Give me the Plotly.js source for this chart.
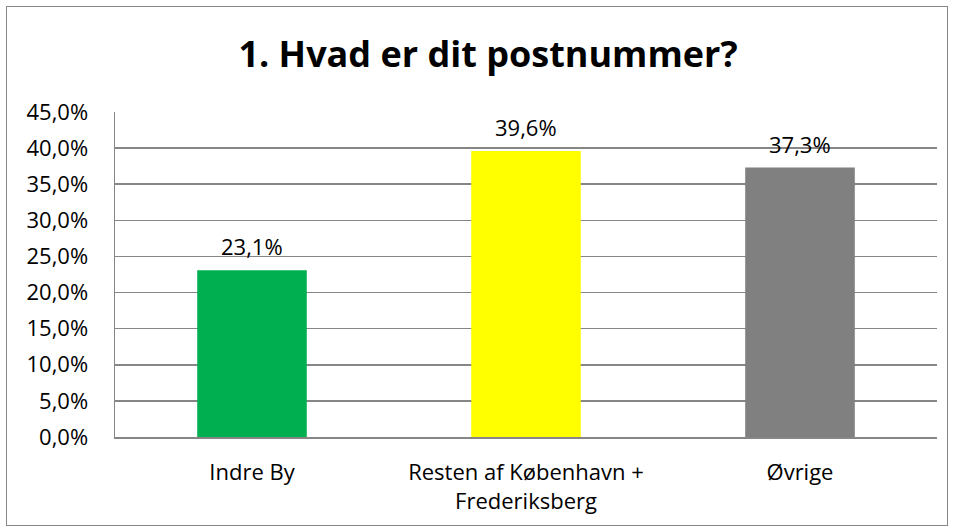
<!DOCTYPE html>
<html><head><meta charset="utf-8">
<script src="https://cdn.plot.ly/plotly-3.0.1.min.js"></script>
<style>body{margin:0;padding:0;background:#fff}#wrap{position:relative;width:955px;height:532px}#chart{width:955px;height:532px}#frame{position:absolute;left:6px;top:6px;width:940px;height:518px;border:1.5px solid #868686;pointer-events:none}</style>
</head><body><div id="wrap"><div id="chart"></div><div id="frame"></div></div>
<script>
const categories = ["Indre By", "Resten af København +<br>Frederiksberg", "Øvrige"];
const values = [0.231, 0.396, 0.373];
const valueLabels = ["23,1%", "39,6%", "37,3%"];
const colors = ["#00B050", "#FFFF00", "#808080"];
const titleText = "1. Hvad er dit postnummer?";
const tickVals = [0, 0.05, 0.10, 0.15, 0.20, 0.25, 0.30, 0.35, 0.40, 0.45];

const fontFam = "'Open Sans', sans-serif";
const annotations = categories.map((c, i) => ({
  x: c, y: values[i], xref: 'x', yref: 'y', text: valueLabels[i], showarrow: false,
  yanchor: 'bottom', yshift: 7, font: {family: fontFam, size: 22, color: '#000'}
}));
Plotly.newPlot('chart', [{
  type: 'bar',
  x: categories,
  y: values,
  marker: {color: colors},
  width: 0.4,
  hoverinfo: 'none'
}], {
  width: 955, height: 532,
  margin: {l: 115, r: 18, t: 112, b: 95},
  separators: ', ',
  paper_bgcolor: '#fff', plot_bgcolor: '#fff',
  title: {text: '<b>' + titleText + '</b>', x: 0.511, xanchor: 'center', y: 0.897, yanchor: 'middle',
          font: {family: fontFam, size: 36, color: '#000'}},
  showlegend: false,
  annotations: annotations,
  xaxis: {showgrid: false, showline: true, linecolor: '#868686', linewidth: 1.5,
          ticks: '', tickfont: {family: fontFam, size: 22, color: '#000'}, ticklabelstandoff: 15},
  yaxis: {range: [0, 0.45], tickvals: tickVals, tickformat: '.1%', showgrid: true,
          gridcolor: '#868686', gridwidth: 1.5, showline: true, linecolor: '#868686', linewidth: 1.5,
          ticks: '', zeroline: false, tickfont: {family: fontFam, size: 22, color: '#000'}, ticklabelstandoff: 21}
}, {displayModeBar: false, staticPlot: true});
</script></body></html>
